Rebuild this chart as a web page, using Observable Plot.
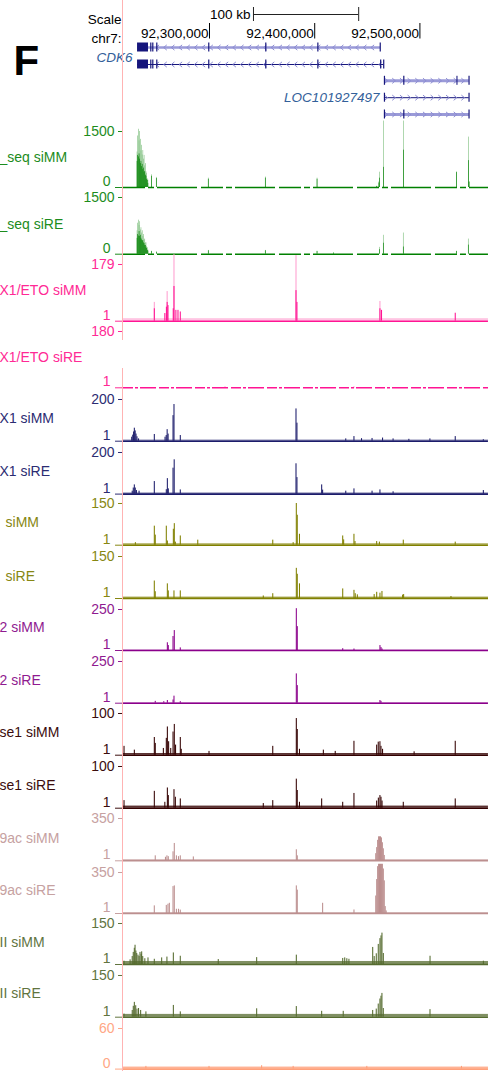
<!DOCTYPE html>
<html><head><meta charset="utf-8">
<script src="https://cdn.jsdelivr.net/npm/d3@7"></script>
<script src="https://cdn.jsdelivr.net/npm/@observablehq/plot@0.6"></script>
<style>
body{margin:0;background:#fff;}
#root{position:relative;width:491px;height:1071px;overflow:hidden;background:#fff;}
#root svg{position:absolute;left:0;}
.vline{position:absolute;left:122px;width:1px;background:#ffb3b3;}
</style></head><body><div id="root"></div>
<script>
// ---------------- data ----------------
const viewKb = [92218.25, 92565.2];           // visible window (kb)
const chromName = "chr7:";
const posTicks = [92300000, 92400000, 92500000];
const scaleBarKb = [92341.8, 92441.8];
const scaleText = "Scale";
const scaleLabel = "100 kb";
const panelLetter = "F";

const geneNames = ["CDK6", "LOC101927497"];
const transcriptGene = [0, 0, 1, 1, 1];
const transcriptStart = [92231.6, 92231.6, 92466.3, 92466.3, 92466.3];
const transcriptEnd = [92462.5, 92465.7, 92546.9, 92546.9, 92546.9];
const transcriptStrand = [-1, -1, 1, 1, 1];
const transcriptBlocks = [[[92231.6, 92242.0]], [[92231.6, 92242.0]], [[92535.2, 92536.2]], [], []];
const transcriptExonTicks = [
  [92244.2, 92246.1, 92249.9, 92299.3, 92353.5, 92403.0, 92462.3],
  [92244.2, 92246.1, 92249.9, 92299.3, 92353.5, 92403.0, 92462.7, 92465.6],
  [92466.3, 92484.7, 92546.7],
  [92466.3, 92546.7],
  [92466.3, 92484.7, 92546.7]
];

const trackLabels = ["_seq siMM", "_seq siRE", "X1/ETO siMM", "X1/ETO siRE", "X1 siMM", "X1 siRE",
  "siMM", "siRE", "2 siMM", "2 siRE", "se1 siMM", "se1 siRE", "9ac siMM", "9ac siRE", "II siMM", "II siRE", ""];
const trackLimits = [[0,1500],[0,1500],[1,179],[1,180],[1,200],[1,200],[1,150],[1,150],
  [1,250],[1,250],[1,100],[1,100],[1,350],[1,350],[1,150],[1,150],[0,60]];
const trackBackground = [0, 0, 9, 0, 6, 6, 6, 6, 3, 3, 5, 6, 10, 8, 12, 11, 3];

// peaks: [position kb, max value, (mean value)]
const seqMM = [[92231.6,950,700],[92232.2,1380,860],[92232.9,1560,820],[92233.5,1250,900],[92234.1,1500,760],
  [92234.7,1290,640],[92235.3,980,700],[92235.9,1130,560],[92236.5,870,620],[92237.1,990,480],[92237.7,760,520],
  [92238.3,860,400],[92238.9,580,430],[92239.5,640,330],[92240.1,420,300],[92240.7,380,220],[92241.3,230,190],
  [92241.9,200,110],[92245.5,340,300],[92249.9,270,240],[92299.3,250,220],[92353.5,280,250],[92402.7,250,220],
  [92461.5,150,120],[92462.0,410,250],[92459.5,30,30],[92465.7,1780,540],[92484.7,1780,1000],[92535.1,420,400],
  [92546.5,1350,720],[92547.2,160,140]];
const seqRE = [[92231.6,620,420],[92232.2,820,520],[92232.9,900,480],[92233.5,760,600],[92234.1,860,470],
  [92234.7,640,500],[92235.3,700,420],[92235.9,560,380],[92236.5,620,350],[92237.1,470,360],[92237.7,520,300],
  [92238.3,380,280],[92238.9,400,230],[92239.5,300,230],[92240.1,300,170],[92240.7,200,150],[92241.3,170,100],
  [92241.9,110,80],[92245.5,80,70],[92249.9,60,50],[92299.3,100,90],[92353.5,100,90],[92402.7,80,70],
  [92418.2,30,30],[92462.0,180,120],[92465.7,500,290],[92484.7,560,190],[92535.1,80,70],[92546.5,400,240]];
const etoMM = [[92248.0,60,40],[92258.0,25],[92259.5,45],[92260.2,94,60],[92261.0,50],[92266.0,40],
  [92266.7,210,110],[92268.5,35],[92270.5,35],[92272.7,30],[92382.7,207,97],[92383.6,60],[92462.5,63,40],
  [92464.0,35],[92534.1,26]];
const etoRE = [[92315.2,3],[92437.8,3]];
const x1MM = [[92226.5,20],[92227.5,30],[92228.3,45],[92229.0,63],[92229.8,50],[92230.6,35],[92231.5,22],
  [92233.0,12],[92248.0,33],[92258.2,20],[92259.3,28],[92260.2,56],[92261.1,35],[92265.8,123],[92266.7,176],
  [92272.7,28],[92382.7,155],[92383.6,87],[92430.0,12],[92437.8,23],[92445.0,13],[92455.0,14],[92465.0,16],
  [92475.0,12],[92490.0,10],[92510.0,12],[92534.1,23],[92560.8,8]];
const x1RE = [[92227.0,15],[92228.0,30],[92229.0,45],[92229.9,30],[92231.0,18],[92233.5,15],[92248.0,61],
  [92259.4,22],[92260.4,75],[92261.3,26],[92265.8,125],[92266.9,165],[92272.7,21],[92382.7,146],[92383.6,80],
  [92407.1,45],[92408.0,20],[92430.0,15],[92437.8,26],[92455.0,15],[92462.5,21],[92475.0,12],[92560.8,18]];
const olMM = [[92230.0,10],[92248.0,69],[92248.9,37],[92259.4,69],[92260.4,16],[92266.1,58],[92267.0,78],
  [92268.0,12],[92272.7,34],[92289.3,19],[92360.6,19],[92380.0,10],[92383.0,150],[92383.9,108],[92386.0,40],
  [92427.1,34],[92428.0,20],[92437.8,40],[92438.8,14],[92459.4,14],[92462.0,12],[92484.7,19],[92534.1,12]];
const olRE = [[92248.0,63],[92248.9,25],[92260.4,53],[92261.3,28],[92266.7,28],[92272.7,28],[92351.6,10],
  [92360.6,18],[92383.0,108],[92383.9,87],[92386.0,53],[92427.1,35],[92437.8,30],[92439.0,18],[92441.0,14],
  [92457.0,15],[92459.4,23],[92462.5,20],[92464.4,26],[92484.0,13],[92485.0,15],[92530.0,8]];
const puMM = [[92260.4,48],[92261.3,31],[92265.8,86],[92267.0,122],[92272.7,17],[92383.0,255],[92383.9,146],
  [92427.1,12],[92437.8,10],[92462.5,31],[92463.5,19],[92464.5,10]];
const puRE = [[92248.9,12],[92257.0,10],[92260.4,17],[92265.8,20],[92266.7,43],[92272.7,10],[92383.0,176],
  [92383.9,106],[92462.5,17],[92463.5,12]];
const brMM = [[92219.2,22],[92229.0,13],[92248.0,43],[92248.9,29],[92256.6,17],[92259.4,41],[92260.4,68],
  [92261.6,33],[92263.6,17],[92265.8,56],[92267.0,74],[92268.2,25],[92272.7,43],[92273.6,15],[92300.0,10],
  [92360.6,22],[92383.0,88],[92383.9,62],[92386.0,15],[92408.7,13],[92420.0,10],[92437.8,34],[92459.4,25],
  [92460.9,32],[92462.5,33],[92463.5,22],[92465.0,15],[92495.0,9],[92534.1,34]];
const brRE = [[92219.2,19],[92248.0,41],[92258.0,15],[92260.4,49],[92261.3,31],[92266.7,45],[92268.0,27],
  [92272.7,23],[92351.6,12],[92360.6,19],[92383.0,70],[92383.9,43],[92386.0,15],[92407.1,23],[92427.1,15],
  [92437.8,36],[92459.4,18],[92461.0,25],[92462.5,31],[92463.5,27],[92464.5,18],[92484.7,15],[92534.1,23]];
const acMM = [[92248.9,42],[92258.6,30],[92260.0,42],[92261.3,35],[92265.8,75],[92267.0,144],[92269.0,42],
  [92271.0,35],[92272.7,42],[92285.1,33],[92383.0,92],[92383.9,42],[92458.5,60],[92459.4,110],[92460.3,170],
  [92461.2,199],[92462.1,199],[92463.0,199],[92463.9,190],[92464.8,150],[92465.7,100],[92466.6,45]];
const acRE = [[92248.0,66],[92259.4,70],[92261.0,80],[92262.3,88],[92265.8,230],[92267.0,236],[92269.0,37],
  [92271.0,37],[92272.7,30],[92383.0,236],[92383.9,200],[92408.0,88],[92437.8,31],[92458.5,150],[92459.4,290],
  [92460.3,400],[92461.2,420],[92462.1,420],[92463.0,420],[92463.9,420],[92464.8,420],[92465.7,380],
  [92466.6,279],[92467.5,60],[92468.4,23]];
const p2MM = [[92219.2,13],[92225.0,18],[92227.0,30],[92228.0,45],[92229.0,60],[92229.7,71],[92230.5,50],
  [92231.3,41],[92232.5,35],[92233.5,30],[92234.4,45],[92235.5,38],[92236.0,47],[92237.0,30],[92239.0,22],
  [92242.0,25],[92248.0,20],[92255.0,25],[92260.0,28],[92266.1,43],[92272.7,31],[92308.8,19],[92345.3,26],
  [92383.0,35],[92427.1,23],[92429.0,25],[92431.0,22],[92433.0,20],[92455.6,63],[92457.0,30],[92459.0,40],
  [92460.9,74],[92462.5,95],[92463.5,105],[92464.4,115],[92465.7,41],[92510.1,31],[92560.8,13]];
const p2RE = [[92219.2,12],[92227.0,25],[92228.0,40],[92229.0,54],[92230.3,42],[92231.5,30],[92233.0,32],
  [92235.0,25],[92240.0,20],[92266.1,43],[92272.7,20],[92345.3,31],[92383.0,39],[92407.1,22],[92427.6,22],
  [92455.6,25],[92459.0,30],[92460.9,48],[92462.5,66],[92463.5,76],[92464.4,86],[92465.7,32],[92510.1,28]];
const saAll = [[92240.0,4],[92300.0,4],[92350.0,5],[92380.0,4],[92450.0,4],[92540.0,4]];
const trackPeaks = [seqMM, seqRE, etoMM, etoRE, x1MM, x1RE, olMM, olRE, puMM, puRE, brMM, brRE, acMM, acRE, p2MM, p2RE, saAll];

// ---------------- styles / layout ----------------
const FONT = "'Liberation Sans', Arial, Helvetica, sans-serif";
const trackColors = [
  {bar:"#008000", light:"#80c080", text:"#1d8c1d"},
  {bar:"#008000", light:"#80c080", text:"#1d8c1d"},
  {bar:"#ff1493", light:"#ff9fd0", text:"#ff2a95"},
  {bar:"#ff1493", light:"#ff9fd0", text:"#ff2a95"},
  {bar:"#1c1c6b", light:"#1c1c6b", text:"#2c2c72"},
  {bar:"#1c1c6b", light:"#1c1c6b", text:"#2c2c72"},
  {bar:"#808000", light:"#808000", text:"#878712"},
  {bar:"#808000", light:"#808000", text:"#878712"},
  {bar:"#8b008b", light:"#8b008b", text:"#901a90"},
  {bar:"#8b008b", light:"#8b008b", text:"#901a90"},
  {bar:"#330000", light:"#330000", text:"#3b0d0d"},
  {bar:"#330000", light:"#330000", text:"#3b0d0d"},
  {bar:"#bc8f8f", light:"#bc8f8f", text:"#c6a1a1"},
  {bar:"#bc8f8f", light:"#bc8f8f", text:"#c6a1a1"},
  {bar:"#556b2f", light:"#556b2f", text:"#61743f"},
  {bar:"#556b2f", light:"#556b2f", text:"#61743f"},
  {bar:"#ffa07a", light:"#ffa07a", text:"#ffa785"}
];
const trackBgOpacity = [0, 0, 0.6, 0, 0.7, 0.7, 0.7, 0.7, 0.8, 0.8, 0.8, 0.8, 0.7, 0.7, 0.75, 0.75, 0.8];
const trackDash = [ "22,3,6,3,40,4", "22,3,6,3,40,4", null, "10,2,3,2,16,3", null, null, null, null, null, null, null, null, null, null, null, null, null];
const trackBarHalfWidth = [0.3, 0.3, 0.5, 0.5, 0.5, 0.5, 0.5, 0.5, 0.5, 0.5, 0.5, 0.5, 0.5, 0.5, 0.5, 0.5, 0.5];
const trackLayout = [
  {top:131, base:187, labelY:152, labelX:-1},
  {top:197.3, base:254, labelY:219, labelX:-1},
  {top:264, base:320.7, labelY:285, labelX:-1},
  {top:331, base:387.3, labelY:352, labelX:-1},
  {top:399, base:440.7, labelY:413, labelX:-1},
  {top:451.7, base:493.3, labelY:465, labelX:-1},
  {top:503.3, base:545, labelY:517, labelX:5},
  {top:555.7, base:597.7, labelY:570, labelX:5},
  {top:609, base:650, labelY:622, labelX:-1},
  {top:661, base:702.7, labelY:675, labelX:-1},
  {top:713.3, base:755, labelY:727, labelX:-1},
  {top:766, base:807.7, labelY:780, labelX:-1},
  {top:817.7, base:860, labelY:832, labelX:-1},
  {top:871.7, base:912.7, labelY:884, labelX:-1},
  {top:923.3, base:964.3, labelY:937, labelX:-1},
  {top:975, base:1016.7, labelY:988, labelX:-1},
  {top:1027.7, base:1068.3, labelY:1042, labelX:-1}
];
const rowY = [47, 64, 80.3, 97.2, 114];
const transcriptLineWidth = [2.5, 1, 3, 1, 3];
const transcriptLineColor = ["#9a9ad8", "#16167c", "#9a9ad8", "#16167c", "#9a9ad8"];
const NAVY = "#16167c", CHEV = "#8c8cd2", GENELABEL = "#33609a";
const FS = 14;

const root = document.getElementById("root");
const ML = 123, MR = 3, WIDTH = 491;

// ---------------- header ----------------
const transcripts = transcriptGene.map((g, i) => ({
  i, gene: geneNames[g], start: transcriptStart[i], end: transcriptEnd[i], strand: transcriptStrand[i]
}));
const blocks = transcripts.flatMap(t => transcriptBlocks[t.i].map(([a, b]) => ({i: t.i, a, b})));
const exTicks = transcripts.flatMap(t => transcriptExonTicks[t.i].map(x => ({i: t.i, x})));
const chevs = transcripts.flatMap(t => {
  const lo = t.strand < 0 ? t.start + 19 : t.start + 1.6;
  return d3.range(lo, t.end - 1.5, 7.3).map(x => ({i: t.i, x, strand: t.strand}));
});
const chevronLeft = {draw(ctx, size) { const r = Math.sqrt(size / Math.PI); ctx.moveTo(r * 0.6, -r); ctx.lineTo(-r * 0.6, 0); ctx.lineTo(r * 0.6, r); }};
const chevronRight = {draw(ctx, size) { const r = Math.sqrt(size / Math.PI); ctx.moveTo(-r * 0.6, -r); ctx.lineTo(r * 0.6, 0); ctx.lineTo(-r * 0.6, r); }};
const geneLabels = geneNames.map((name, g) => {
  const idx = transcriptGene.map((gg, i) => gg === g ? i : -1).filter(i => i >= 0);
  return {name, x: transcriptStart[idx[0]], y: d3.mean(idx.map(i => rowY[i])) + (g === 0 ? 1.5 : 0)};
});

const header = Plot.plot({
  width: WIDTH, height: 122, marginLeft: ML, marginRight: MR, marginTop: 0, marginBottom: 0,
  x: {domain: viewKb, axis: null},
  y: {domain: [0, 122], range: [0, 122], axis: null},
  style: {background: "transparent", overflow: "visible", fontFamily: FONT},
  marks: [
    Plot.text([panelLetter], {frameAnchor: "top-left", dx: 13 - ML, dy: 44.5, textAnchor: "start", fontSize: 42, fontWeight: "bold", fill: "#000"}),
    Plot.text([scaleText], {frameAnchor: "top-left", dx: -2, dy: 14, textAnchor: "end", fontSize: 13.5, fill: "#000"}),
    Plot.text([scaleLabel], {x: scaleBarKb[0], y: 14, dx: -3, textAnchor: "end", fontSize: 13.5, fill: "#000"}),
    Plot.ruleY([14], {x1: scaleBarKb[0], x2: scaleBarKb[1], stroke: "#222"}),
    Plot.ruleX(scaleBarKb, {x: d => d, y1: 7, y2: 21, stroke: "#222"}),
    Plot.text([chromName], {frameAnchor: "top-left", dx: -2, dy: 33, textAnchor: "end", fontSize: 13.5, fill: "#000"}),
    Plot.text(posTicks, {x: d => d / 1000, y: 33, text: d => d3.format(",")(d), textAnchor: "end", dx: -1, fontSize: 13.5, fill: "#000"}),
    Plot.ruleX(posTicks, {x: d => d / 1000, y1: 23, y2: 38.5, stroke: "#000"}),
    Plot.ruleY(transcripts, {x1: "start", x2: "end", y: d => rowY[d.i], stroke: d => transcriptLineColor[d.i], strokeWidth: d => transcriptLineWidth[d.i]}),
    Plot.dot(chevs.filter(d => d.strand < 0), {x: "x", y: d => rowY[d.i], symbol: chevronLeft, r: 2.6, stroke: CHEV, fill: "none", strokeWidth: 1}),
    Plot.dot(chevs.filter(d => d.strand > 0), {x: "x", y: d => rowY[d.i], symbol: chevronRight, r: 2.6, stroke: CHEV, fill: "none", strokeWidth: 1}),
    Plot.rect(blocks, {x1: "a", x2: "b", y1: d => rowY[d.i] - 4.5, y2: d => rowY[d.i] + 4.5, fill: NAVY}),
    Plot.ruleX(exTicks, {x: "x", y1: d => rowY[d.i] - 4.5, y2: d => rowY[d.i] + 4.5, stroke: NAVY, strokeWidth: 1.2}),
    Plot.text(geneLabels, {x: "x", y: "y", text: "name", dx: -5, textAnchor: "end", fontSize: 13.5, fontStyle: "italic", fill: GENELABEL})
  ]
});
header.style.top = "0px";
root.appendChild(header);

// ---------------- tracks ----------------
trackPeaks.forEach((peaks, i) => {
  const L = trackLayout[i], C = trackColors[i];
  const [lo, hi] = trackLimits[i];
  const mt = 14, mb = 3, h = L.base - L.top;
  const hw = trackBarHalfWidth[i];
  const light = peaks.filter(p => p.length > 2);
  const dark = peaks.map(p => [p[0], p.length > 2 ? p[2] : p[1]]);
  const bg = trackBackground[i];
  const marks = [];
  if (bg > 0) marks.push(Plot.rect([bg], {x1: viewKb[0], x2: viewKb[1], y1: lo, y2: d => d, fill: C.light, fillOpacity: trackBgOpacity[i]}));
  marks.push(
    Plot.rect(light, {x1: d => d[0] - hw, x2: d => d[0] + hw, y1: lo, y2: d => d[1], fill: C.light}),
    Plot.rect(dark, {x1: d => d[0] - hw, x2: d => d[0] + hw, y1: lo, y2: d => d[1], fill: C.bar}),
    Plot.ruleY([lo], {stroke: C.bar, strokeWidth: 1.6, strokeDasharray: trackDash[i]}),
    Plot.axisY({ticks: [hi], tickSize: 5, tickPadding: 4, color: C.text, fontSize: FS, label: null, tickFormat: d => String(d)}),
    Plot.axisY({ticks: [lo], tickSize: 0, tickPadding: 13, dy: -6, color: C.text, fontSize: FS, label: null, tickFormat: d => String(d)}),
    Plot.axisY({ticks: [lo], tickSize: 8, color: C.text, label: null, tickFormat: () => ""}),
    Plot.text([trackLabels[i]], {text: d => d, frameAnchor: "top-left", dx: L.labelX - ML, dy: L.labelY - L.top, textAnchor: "start", fontSize: FS, fill: C.text})
  );
  const chart = Plot.plot({
    width: WIDTH, height: h + mt + mb, marginLeft: ML, marginRight: MR, marginTop: mt, marginBottom: mb,
    x: {domain: viewKb, axis: null},
    y: {domain: [lo, hi]},
    style: {background: "transparent", overflow: "visible", fontFamily: FONT},
    marks
  });
  chart.style.top = (L.top - mt) + "px";
  root.appendChild(chart);
});

// the pink highlight line at the left edge of the data area
[[0, 340], [368, 1071]].forEach(([a, b]) => {
  const d = document.createElement("div");
  d.className = "vline"; d.style.top = a + "px"; d.style.height = (b - a) + "px";
  root.appendChild(d);
});
</script></body></html>
